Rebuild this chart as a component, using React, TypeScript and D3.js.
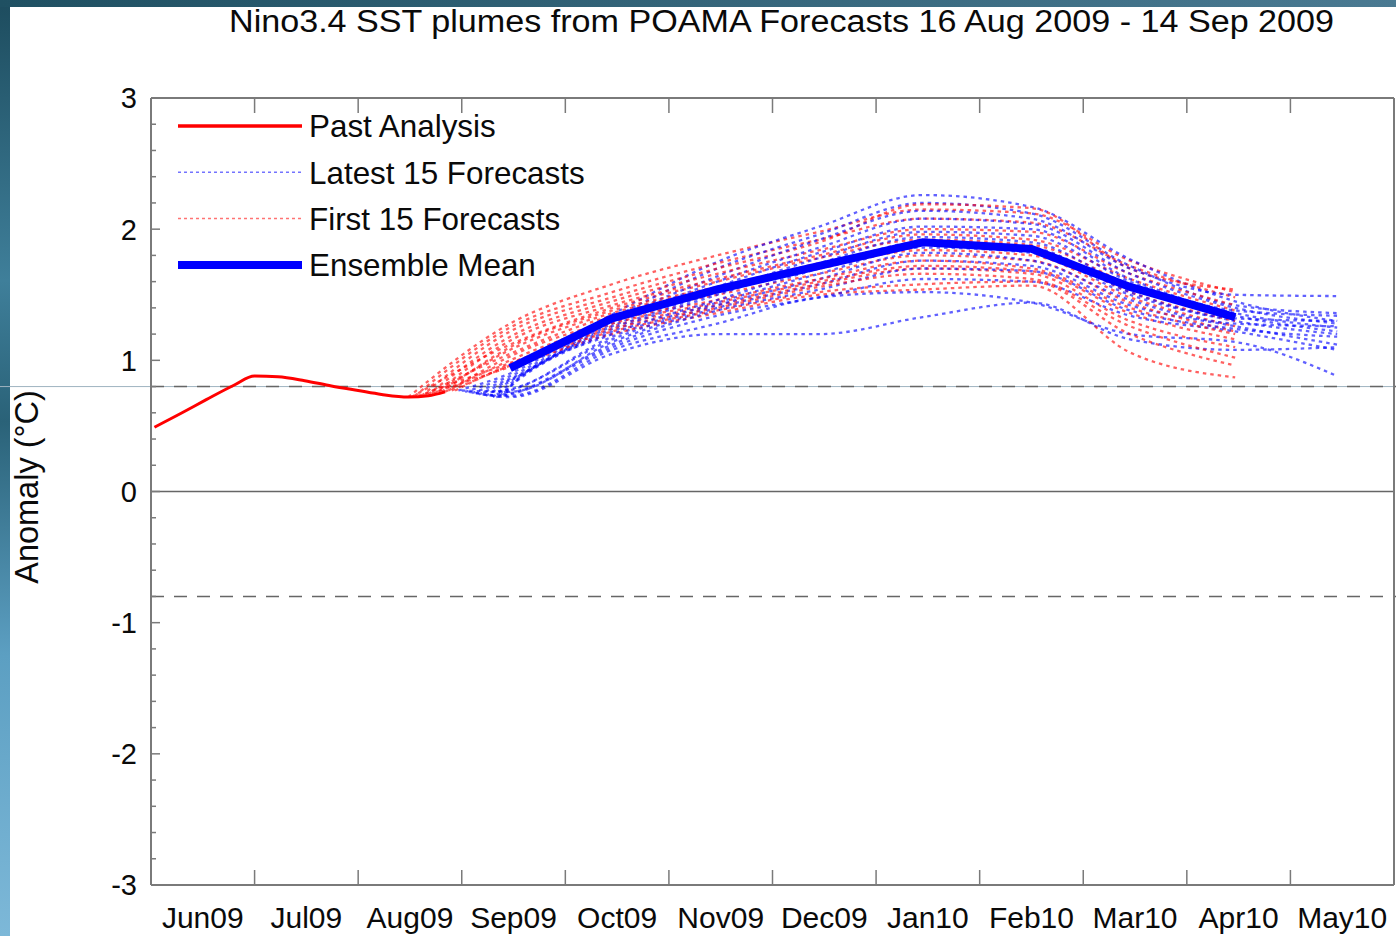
import React from "react";
import * as d3 from "d3";

const W = 1396;
const H = 936;

const title = "Nino3.4 SST plumes from POAMA Forecasts 16 Aug 2009 - 14 Sep 2009";
const monthLabels = ["Jun09", "Jul09", "Aug09", "Sep09", "Oct09", "Nov09", "Dec09", "Jan10", "Feb10", "Mar10", "Apr10", "May10"];
const yTicks = [-3, -2, -1, 0, 1, 2, 3];
const thresholds = [-0.8, 0.8];

// observed Nino3.4 anomaly
const pastDates = ["2009-06-02", "2009-06-10", "2009-06-17", "2009-06-25", "2009-07-01", "2009-07-08", "2009-07-16", "2009-07-24", "2009-08-01", "2009-08-08", "2009-08-16", "2009-08-22", "2009-08-27"];
const pastValues = [0.49, 0.6, 0.7, 0.81, 0.88, 0.875, 0.845, 0.805, 0.77, 0.74, 0.72, 0.73, 0.76];

// first 15 forecasts (red): initial dates, starting anomaly, monthly means Sep09..Apr10
const firstMonths = ["2009-09-15", "2009-10-15", "2009-11-15", "2009-12-15", "2010-01-15", "2010-02-15", "2010-03-15", "2010-04-15"];
const firstInit = ["2009-08-16", "2009-08-17", "2009-08-18", "2009-08-19", "2009-08-20", "2009-08-21", "2009-08-22", "2009-08-23", "2009-08-24", "2009-08-25", "2009-08-26", "2009-08-27", "2009-08-28", "2009-08-29", "2009-08-30"];
const firstStart = [0.72, 0.72, 0.73, 0.73, 0.73, 0.74, 0.74, 0.75, 0.75, 0.76, 0.76, 0.76, 0.77, 0.77, 0.77];
const firstForecasts = [
  [1.28, 1.58, 1.8, 1.98, 2.15, 2.12, 1.76, 1.52],
  [1.12, 1.4, 1.6, 1.78, 1.92, 1.88, 1.58, 1.34],
  [1.25, 1.52, 1.74, 1.92, 2.08, 2.05, 1.72, 1.48],
  [0.98, 1.26, 1.42, 1.58, 1.7, 1.66, 1.3, 1.1],
  [1.22, 1.48, 1.7, 1.9, 2.19, 2.16, 1.7, 1.54],
  [1.05, 1.34, 1.5, 1.66, 1.8, 1.76, 1.44, 1.22],
  [1.18, 1.45, 1.66, 1.84, 2.0, 1.98, 1.66, 1.42],
  [0.95, 1.2, 1.36, 1.5, 1.54, 1.57, 1.06, 0.87],
  [1.15, 1.42, 1.62, 1.8, 1.96, 1.92, 1.62, 1.38],
  [1.08, 1.36, 1.54, 1.7, 1.84, 1.8, 1.48, 1.26],
  [1.1, 1.38, 1.56, 1.74, 1.88, 1.85, 1.52, 1.3],
  [1.0, 1.28, 1.44, 1.6, 1.72, 1.68, 1.36, 1.16],
  [1.03, 1.3, 1.46, 1.62, 1.76, 1.7, 1.4, 1.2],
  [0.96, 1.22, 1.38, 1.52, 1.58, 1.6, 1.2, 0.96],
  [0.97, 1.24, 1.4, 1.56, 1.66, 1.62, 1.26, 1.02],
];

// latest 15 forecasts (blue): monthly means Sep09..May10
const latestMonths = ["2009-09-15", "2009-10-15", "2009-11-15", "2009-12-15", "2010-01-15", "2010-02-15", "2010-03-15", "2010-04-15", "2010-05-15"];
const latestInit = ["2009-08-31", "2009-09-01", "2009-09-02", "2009-09-03", "2009-09-04", "2009-09-05", "2009-09-06", "2009-09-07", "2009-09-08", "2009-09-09", "2009-09-10", "2009-09-11", "2009-09-12", "2009-09-13", "2009-09-14"];
const latestStart = [0.77, 0.77, 0.76, 0.76, 0.75, 0.75, 0.74, 0.74, 0.73, 0.73, 0.72, 0.72, 0.73, 0.74, 0.75];
const latestForecasts = [
  [0.9, 1.35, 1.75, 2.02, 2.26, 2.17, 1.77, 1.45, 1.3],
  [0.76, 1.14, 1.4, 1.58, 1.76, 1.72, 1.42, 1.26, 1.12],
  [0.88, 1.32, 1.7, 1.96, 2.2, 2.12, 1.72, 1.42, 1.36],
  [0.72, 1.05, 1.2, 1.2, 1.33, 1.44, 1.16, 1.08, 1.1],
  [0.86, 1.3, 1.64, 1.92, 2.14, 2.08, 1.7, 1.5, 1.49],
  [0.78, 1.18, 1.44, 1.66, 1.86, 1.82, 1.5, 1.3, 1.2],
  [0.85, 1.28, 1.6, 1.86, 2.08, 2.04, 1.66, 1.4, 1.28],
  [0.73, 1.08, 1.28, 1.48, 1.52, 1.44, 1.2, 1.14, 0.88],
  [0.84, 1.26, 1.56, 1.82, 2.02, 2.0, 1.62, 1.38, 1.34],
  [0.77, 1.16, 1.42, 1.62, 1.82, 1.76, 1.46, 1.28, 1.26],
  [0.82, 1.24, 1.52, 1.78, 1.98, 1.95, 1.6, 1.36, 1.25],
  [0.74, 1.1, 1.34, 1.48, 1.62, 1.6, 1.34, 1.22, 1.08],
  [0.8, 1.22, 1.5, 1.74, 1.94, 1.9, 1.56, 1.34, 1.22],
  [0.75, 1.12, 1.38, 1.54, 1.7, 1.68, 1.38, 1.24, 1.18],
  [0.8, 1.2, 1.46, 1.7, 1.9, 1.86, 1.52, 1.32, 1.3],
];

// ensemble mean Sep09..Apr10
const meanMonths = firstMonths;
const meanValues = [0.94, 1.32, 1.54, 1.72, 1.9, 1.85, 1.56, 1.33];

const legendItems = [
  { label: "Past Analysis", kind: "past" },
  { label: "Latest 15 Forecasts", kind: "latest" },
  { label: "First 15 Forecasts", kind: "first" },
  { label: "Ensemble Mean", kind: "mean" },
];

// months since 1 Jun 2009
const monthIndex = (iso: string) => {
  const d = new Date(iso + "T00:00:00Z");
  const yr = d.getUTCFullYear();
  const m = d.getUTCMonth();
  const dim = new Date(Date.UTC(yr, m + 1, 0)).getUTCDate();
  return (yr - 2009) * 12 + (m - 5) + (d.getUTCDate() - 1) / dim;
};

const font = "'Liberation Sans', Arial, Helvetica, sans-serif";
const RED = "#ff0000";
const BLUE = "#0000ff";
const GREY = "#7a7a7a";
const INK = "#0a0a0a";

export default function App() {
  const left = 151;
  const right = 1394;
  const top = 98;
  const bottom = 885;

  const x = d3.scaleLinear().domain([0, 12]).range([left, right]);
  const y = d3.scaleLinear().domain([-3, 3]).range([bottom, top]);
  const minorTicks = d3.range(-30, 31, 2).map((d) => d / 10);

  const line = d3
    .line<[number, number]>()
    .x((d) => x(d[0]))
    .y((d) => y(d[1]))
    .curve(d3.curveMonotoneX);
  const straight = d3
    .line<[number, number]>()
    .x((d) => x(d[0]))
    .y((d) => y(d[1]));

  const firstPaths = firstForecasts.map((vals, i) =>
    line([
      [monthIndex(firstInit[i]), firstStart[i]],
      ...vals.map((v, j) => [monthIndex(firstMonths[j]), v] as [number, number]),
    ])
  );
  const latestPaths = latestForecasts.map((vals, i) =>
    line([
      [monthIndex(latestInit[i]), latestStart[i]],
      ...vals.map((v, j) => [monthIndex(latestMonths[j]), v] as [number, number]),
    ])
  );
  const pastPath = line(pastDates.map((d, i) => [monthIndex(d), pastValues[i]] as [number, number]));
  const meanPath = straight(meanMonths.map((d, i) => [monthIndex(d), meanValues[i]] as [number, number]));

  const memberStyle = { fill: "none", strokeWidth: 2.3, strokeDasharray: "3.5 4", strokeOpacity: 0.62 };

  return (
    <svg width={W} height={H} style={{ position: "absolute", left: 0, top: 0 }} fontFamily={font}>
      <defs>
        <linearGradient id="bgLeft" x1="0" y1="0" x2="0" y2="1">
          <stop offset="0" stopColor="#1d4c5e" />
          <stop offset="0.3" stopColor="#3f7f9a" />
          <stop offset="0.45" stopColor="#2a6278" />
          <stop offset="0.7" stopColor="#5c9fc2" />
          <stop offset="1" stopColor="#7db8d8" />
        </linearGradient>
        <linearGradient id="bgTop" x1="0" y1="0" x2="1" y2="0">
          <stop offset="0" stopColor="#1f5062" />
          <stop offset="1" stopColor="#4a7a92" />
        </linearGradient>
        <clipPath id="plotClip">
          <rect x={left} y={top} width={right - left} height={bottom - top} />
        </clipPath>
      </defs>
      <rect x={0} y={0} width={W} height={H} fill="url(#bgLeft)" />
      <rect x={0} y={0} width={W} height={7} fill="url(#bgTop)" />
      <rect x={10} y={7} width={W - 10} height={H - 7} fill="#ffffff" />

      <text x={229} y={32} fontSize={31} fill={INK} textLength={1105} lengthAdjust="spacingAndGlyphs">
        {title}
      </text>

      {/* thin guide line across the page at the +0.8 level */}
      <line x1={0} x2={W} y1={y(0.8)} y2={y(0.8)} stroke="#9fb4c0" strokeWidth={1} />

      {/* reference lines */}
      <line x1={left} x2={right} y1={y(0)} y2={y(0)} stroke="#666" strokeWidth={1.5} />
      {thresholds.map((t) => (
        <line key={t} x1={left} x2={W} y1={y(t)} y2={y(t)} stroke="#666" strokeWidth={1.5} strokeDasharray="13 10" />
      ))}

      {/* plumes */}
      <g clipPath="url(#plotClip)">
        {firstPaths.map((p, i) => (
          <g key={i}>
            <path d={p ?? ""} stroke={RED} {...memberStyle} />
            <path d={latestPaths[i] ?? ""} stroke={BLUE} {...memberStyle} />
          </g>
        ))}
        <path d={pastPath ?? ""} fill="none" stroke={RED} strokeWidth={3} />
        <path d={meanPath ?? ""} fill="none" stroke={BLUE} strokeWidth={8} />
      </g>

      {/* frame */}
      <g stroke={GREY} strokeWidth={2} fill="none">
        <line x1={left} x2={left} y1={top} y2={bottom} />
        <line x1={left} x2={right} y1={top} y2={top} />
        <line x1={left} x2={right} y1={bottom} y2={bottom} />
        <line x1={right} x2={right} y1={top} y2={bottom} />
      </g>

      {/* y ticks */}
      <g stroke={GREY} strokeWidth={1.5}>
        {minorTicks.map((t) => (
          <line key={t} x1={left} x2={left + (Number.isInteger(t) ? 9 : 5)} y1={y(t)} y2={y(t)} />
        ))}
      </g>
      {yTicks.map((t) => (
        <text key={t} x={137} y={y(t)} dy="0.36em" textAnchor="end" fontSize={29} fill={INK}>
          {t}
        </text>
      ))}

      {/* x ticks */}
      <g stroke={GREY} strokeWidth={1.5}>
        {d3.range(1, 12).map((m) => (
          <g key={m}>
            <line x1={x(m)} x2={x(m)} y1={top} y2={top + 15} />
            <line x1={x(m)} x2={x(m)} y1={bottom} y2={bottom - 15} />
          </g>
        ))}
      </g>
      {monthLabels.map((lab, i) => (
        <text key={lab} x={x(i + 0.5)} y={928} textAnchor="middle" fontSize={30} fill={INK}>
          {lab}
        </text>
      ))}

      <text transform={`translate(38, 487) rotate(-90)`} textAnchor="middle" fontSize={32.5} fill={INK}>
        Anomaly (°C)
      </text>

      {/* legend */}
      {legendItems.map((item, i) => {
        const ly = 126 + i * 46.3;
        const common = { x1: 178, x2: 302, y1: ly, y2: ly };
        return (
          <g key={item.label}>
            {item.kind === "past" && <line {...common} stroke={RED} strokeWidth={3.5} />}
            {item.kind === "latest" && <line {...common} stroke={BLUE} strokeWidth={1.5} strokeDasharray="3 3" strokeOpacity={0.55} />}
            {item.kind === "first" && <line {...common} stroke={RED} strokeWidth={1.5} strokeDasharray="3 3" strokeOpacity={0.55} />}
            {item.kind === "mean" && <line {...common} stroke={BLUE} strokeWidth={8} />}
            <text x={309} y={ly} dy="0.36em" fontSize={31.4} fill={INK}>
              {item.label}
            </text>
          </g>
        );
      })}
    </svg>
  );
}
